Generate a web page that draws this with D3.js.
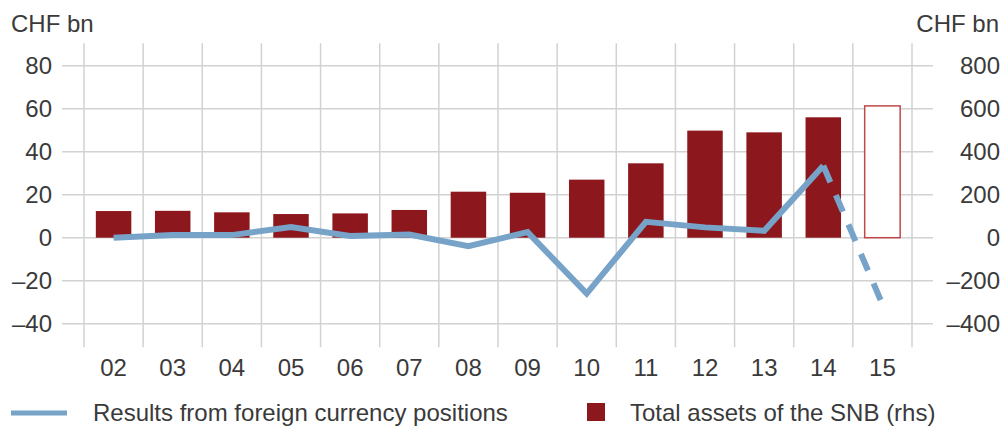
<!DOCTYPE html>
<html lang="en">
<head>
  <meta charset="UTF-8"/>
  <title>SNB results and total assets</title>
  <script src="https://d3js.org/d3.v7.min.js"></script>
  <style>
body {
  margin: 0;
  background: #fff;
}

svg {
  display: block;
}

text {
  font-family: 'Liberation Sans', Arial, sans-serif;
  font-size: 24px;
  fill: #3a3a3a;
}

.grid line {
  stroke: #d2d2d2;
  stroke-width: 1.5;
}

.bar {
  fill: #8c181d;
}

.bar.open {
  fill: #fff;
  stroke: #c0474a;
  stroke-width: 1.5;
}

.result {
  fill: none;
  stroke: #77a3c9;
  stroke-width: 6;
  stroke-linejoin: miter;
}
  </style>
</head>
<body>
<svg width="1003" height="427"></svg>
<script>

// years (x axis)
const years = ['02', '03', '04', '05', '06', '07', '08', '09', '10', '11', '12', '13', '14', '15'];

// total assets of the SNB, CHF bn (rhs); the last one is drawn as an open bar
const totalAssets = [124, 125, 118, 110, 113, 129, 214, 209, 270, 346, 498, 490, 560, 613];

// results from foreign currency positions, CHF bn (lhs)
const fxResults = [0, 1.3, 1.2, 5, 0.8, 1.5, -3.9, 2.6, -26, 7.4, 4.8, 3.2, 33.5, -31];

const leftTicks = [-40, -20, 0, 20, 40, 60, 80];
const rightTicks = [-400, -200, 0, 200, 400, 600, 800];

const svg = d3.select('svg');

const plotLeft = 84, plotRight = 912;
const plotTop = 44.2, plotBottom = 345.2;

const x = d3.scaleBand()
  .domain(years)
  .range([plotLeft, plotRight])
  .paddingInner(0.4)
  .paddingOuter(0.2);

const step = x.step();
const cx = (d) => x(d) + x.bandwidth() / 2;

const yL = d3.scaleLinear().domain([-50, 90]).range([plotBottom, plotTop]);
const yR = d3.scaleLinear().domain([-500, 900]).range([plotBottom, plotTop]);

// grid
const grid = svg.append('g').attr('class', 'grid');

grid.selectAll('line.h')
  .data(leftTicks)
  .enter()
  .append('line')
  .attr('class', 'h')
  .attr('x1', 62)
  .attr('x2', 933)
  .attr('y1', (d) => yL(d))
  .attr('y2', (d) => yL(d));

const bounds = years.map((d) => x(d) - step * 0.2).concat([x(years[years.length - 1]) - step * 0.2 + step]);

grid.selectAll('line.v')
  .data(bounds)
  .enter()
  .append('line')
  .attr('class', 'v')
  .attr('x1', (d) => d)
  .attr('x2', (d) => d)
  .attr('y1', plotTop - 1)
  .attr('y2', plotBottom + 2);

// bars
svg.append('g')
  .selectAll('rect')
  .data(totalAssets)
  .enter()
  .append('rect')
  .attr('class', (d, i) => i === years.length - 1 ? 'bar open' : 'bar')
  .attr('x', (d, i) => x(years[i]))
  .attr('y', (d) => yR(d))
  .attr('width', x.bandwidth())
  .attr('height', (d) => yR(0) - yR(d));

// line: solid up to 14, dashed to the 15 estimate
const pts = fxResults.map((v, i) => [cx(years[i]), yL(v)]);
const line = d3.line();

svg.append('path')
  .attr('class', 'result')
  .attr('d', line(pts.slice(0, pts.length - 1)));

svg.append('path')
  .attr('class', 'result')
  .attr('stroke-dasharray', '18 14')
  .attr('d', line(pts.slice(pts.length - 2)));

// axes labels
svg.append('g')
  .selectAll('text')
  .data(leftTicks)
  .enter()
  .append('text')
  .attr('x', 52)
  .attr('y', (d) => yL(d))
  .attr('dy', '0.35em')
  .attr('text-anchor', 'end')
  .text((d) => d < 0 ? '\u2013' + Math.abs(d) : d);

svg.append('g')
  .selectAll('text')
  .data(rightTicks)
  .enter()
  .append('text')
  .attr('x', 1000)
  .attr('y', (d) => yR(d))
  .attr('dy', '0.35em')
  .attr('text-anchor', 'end')
  .text((d) => d < 0 ? '\u2013' + Math.abs(d) : d);

svg.append('g')
  .selectAll('text')
  .data(years)
  .enter()
  .append('text')
  .attr('x', (d) => cx(d))
  .attr('y', 376)
  .attr('text-anchor', 'middle')
  .text((d) => d);

svg.append('text')
  .attr('x', 11)
  .attr('y', 32)
  .text('CHF bn');

svg.append('text')
  .attr('x', 999)
  .attr('y', 32)
  .attr('text-anchor', 'end')
  .text('CHF bn');

// legend
svg.append('line')
  .attr('x1', 11)
  .attr('x2', 67)
  .attr('y1', 413)
  .attr('y2', 413)
  .attr('stroke', '#77a3c9')
  .attr('stroke-width', 5);

svg.append('text')
  .attr('x', 93)
  .attr('y', 421)
  .text('Results from foreign currency positions');

svg.append('rect')
  .attr('class', 'bar')
  .attr('x', 587)
  .attr('y', 403)
  .attr('width', 18)
  .attr('height', 18);

svg.append('text')
  .attr('x', 630)
  .attr('y', 421)
  .text('Total assets of the SNB (rhs)');

</script>
</body>
</html>
